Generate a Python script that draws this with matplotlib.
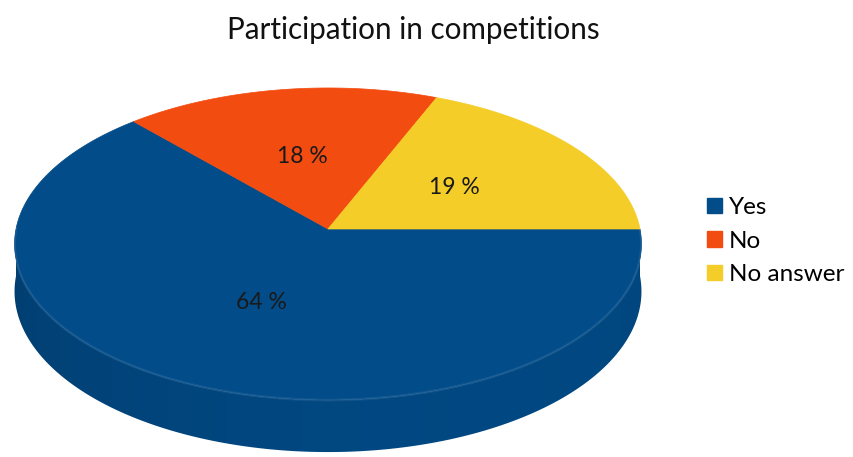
import numpy as np
import matplotlib
matplotlib.use("Agg")
import matplotlib.pyplot as plt
from matplotlib.patches import Polygon, Patch
from matplotlib.colors import to_rgb

# Survey answers
categories = ["Yes", "No", "No answer"]
shares = [64, 18, 19]
labels = ["64 %", "18 %", "19 %"]
colors = ["#024c89", "#f34c11", "#f4cd29"]

plt.rcParams["font.family"] = ["Lato", "DejaVu Sans"]

W, H = 854, 457
fig = plt.figure(figsize=(W / 100, H / 100), dpi=100)
ax = fig.add_axes([0, 0, 1, 1])
ax.set_xlim(0, W)
ax.set_ylim(H, 0)
ax.axis("off")

# Perspective view of a flat disc: apex, half-width, half-depth, tilt, thickness
CX, CY = 328.0, 229.0
A, B, K, D = 312.0, 154.6, 0.0962, 47.0


def project(theta, r=1.0, drop=0.0):
    u = r * np.cos(theta)
    v = r * np.sin(theta)
    w = 1.0 + K * v
    return CX + A * u / w, CY - B * v / w + drop / w


def shade(theta):
    # light comes from the front right
    return 0.86 + 0.09 * np.cos(theta - np.deg2rad(300))


vals = np.asarray(shares, float)
fracs = vals / vals.sum()
# slices run clockwise from 3 o'clock
bounds = np.concatenate([[0.0], -np.cumsum(fracs) * 2 * np.pi])

# column -> angle lookup along the front wall
t_front = np.linspace(np.pi, 2 * np.pi, 2000)
x_front, _ = project(t_front)
order = np.argsort(x_front)
cols = np.arange(W) + 0.5
f_cols = np.interp(cols, x_front[order], shade(t_front)[order])

# outer wall, front half only
for i, c in enumerate(colors):
    a0, a1 = bounds[i], bounds[i + 1]
    lo, hi = max(min(a0, a1), -np.pi), min(max(a0, a1), 0.0)
    if hi - lo <= 1e-6:
        continue
    ts = np.linspace(lo, hi, 300)
    tx, ty = project(ts)
    bx, by = project(ts[::-1], drop=D)
    wall = Polygon(list(zip(tx, ty)) + list(zip(bx, by)), closed=True,
                   facecolor="none", edgecolor="none")
    ax.add_patch(wall)
    base = np.array(to_rgb(c))
    img = np.clip(f_cols[None, :, None] * base[None, None, :], 0, 1)
    img = np.repeat(img, 2, axis=0)
    im = ax.imshow(img, extent=(0, W, H, 0), aspect="auto",
                   interpolation="bilinear", zorder=1)
    im.set_clip_path(wall)

# top faces
for i, c in enumerate(colors):
    a0, a1 = bounds[i], bounds[i + 1]
    ts = np.linspace(a0, a1, 200)
    xs, ys = project(ts)
    pts = [(CX, CY)] + list(zip(xs, ys))
    ax.add_patch(Polygon(pts, closed=True, facecolor=c, edgecolor=c,
                         linewidth=0.5, zorder=2))

# slight highlight where the top meets the wall
ts = np.linspace(np.pi, 2 * np.pi, 300)
xs, ys = project(ts)
ax.plot(xs, ys, color="white", alpha=0.07, linewidth=2, zorder=3)

ax.set_xlim(0, W)
ax.set_ylim(H, 0)

# value labels at mid-radius of each slice
for i, lab in enumerate(labels):
    tm = 0.5 * (bounds[i] + bounds[i + 1])
    lx, ly = project(tm, r=0.5)
    ax.text(lx, ly, lab, ha="center", va="center", fontsize=16.5,
            color="#1a1a1a", zorder=4)

ax.text(413, 30, "Participation in competitions", ha="center", va="center",
        fontsize=21.3, color="#111111")

handles = [Patch(facecolor=c, edgecolor=c) for c in colors]
ax.legend(handles, categories, loc="center left",
          bbox_to_anchor=(695, 241), bbox_transform=ax.transData,
          frameon=False, fontsize=17.5, handlelength=0.6, handleheight=0.6,
          handletextpad=0.3, labelspacing=0.52, borderpad=0)

fig.savefig("out.png", dpi=100)
